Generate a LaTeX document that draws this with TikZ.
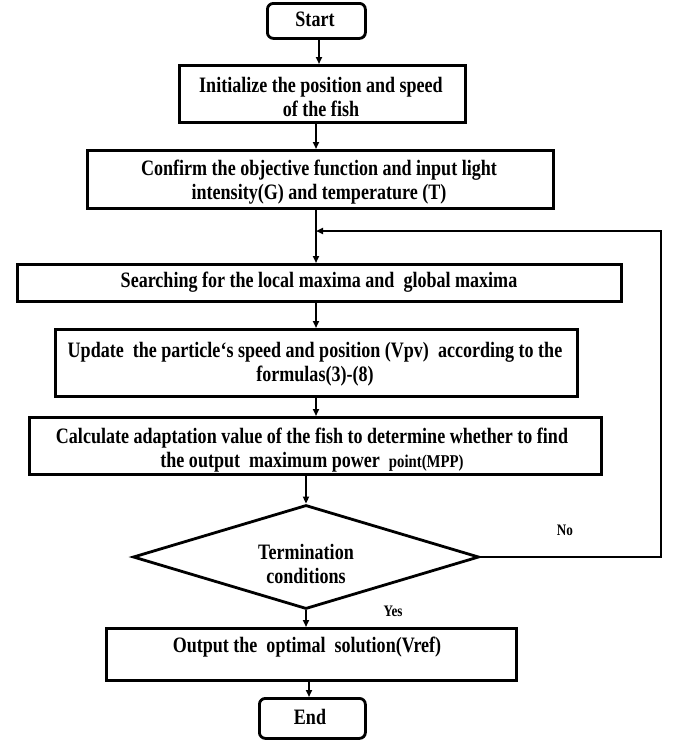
\documentclass[tikz,border=0pt]{standalone}
\usepackage{fontspec}
\setmainfont{Liberation Serif}[FakeStretch=0.82]
\usetikzlibrary{arrows.meta,shapes.geometric}
\begin{document}
\begin{tikzpicture}[x=1pt,y=-1pt,
  box/.style={draw,line width=2.8pt,inner sep=0pt,anchor=north west},
  rbox/.style={box,rounded corners=6pt},
  txt/.style={font=\bfseries\fontsize{22}{24}\selectfont,align=center,inner sep=0pt},
  lbl/.style={font=\bfseries\fontsize{16}{18}\selectfont,inner sep=0pt},
  arr/.style={line width=1.7pt,-{Triangle[length=7pt,width=6pt]}},
  ln/.style={line width=2.2pt}]
\useasboundingbox (0,0) rectangle (682,740);
% boxes
\node[rbox,minimum width=98pt,minimum height=35pt] (start) at (266,2) {};
\node[box,minimum width=286pt,minimum height=57pt] (b1) at (178,64) {};
\node[box,minimum width=466pt,minimum height=58pt] (b2) at (86,149) {};
\node[box,minimum width=604pt,minimum height=37pt] (b3) at (16,263) {};
\node[box,minimum width=522pt,minimum height=67pt] (b4) at (54,328) {};
\node[box,minimum width=572pt,minimum height=57pt] (b5) at (28,416) {};
\node[draw,line width=2.8pt,diamond,inner sep=0pt,minimum width=346pt,minimum height=104pt] (d) at (306,557) {};
\node[box,minimum width=410pt,minimum height=52pt] (b6) at (105,627) {};
\node[rbox,minimum width=106pt,minimum height=40pt] (end) at (258,697) {};
% texts
\node[txt] (tstart) at (315,19) {Start};
\node[txt] (t1) at (321,97) {Initialize the position and speed\\of the fish};
\node[txt] (t2) at (319,182) {Confirm the objective function and input light\\intensity(G) and temperature (T)};
\node[txt] (t3) at (319,282) {Searching for the local maxima and\ \ global maxima};
\node[txt] (t4) at (315,364) {Update\ \ the particle‘s speed and position (Vpv)\ \ according to the\\formulas(3)-(8)};
\node[txt] (t5) at (312,450) {Calculate adaptation value of the fish to determine whether to find\\the output\ \ maximum power\ \ {\fontsize{18}{20}\selectfont point(MPP)}};
\node[txt] (td) at (306,564) {Termination\\conditions};
\node[txt] (t6) at (307,647) {Output the\ \ optimal\ \ solution(Vref)};
\node[txt] (tend) at (310,717) {End};
\node[lbl] (no) at (565,530) {No};
\node[lbl] (yes) at (393,611) {Yes};
% connectors
\draw[arr] (start.south -| 319,0) -- (b1.north -| 319,0);
\draw[arr] (b1.south -| 316,0) -- (b2.north -| 316,0);
\draw[arr] (b2.south -| 316,0) -- (b3.north -| 316,0);
\draw[arr] (b3.south -| 316,0) -- (b4.north -| 316,0);
\draw[arr] (b4.south -| 316,0) -- (b5.north -| 316,0);
\draw[arr] (b5.south -| 306,0) -- (d.north);
\draw[arr] (d.south) -- (b6.north -| 306,0);
\draw[arr] (b6.south -| 309,0) -- (end.north -| 309,0);
\coordinate (lc1) at (661,557);
\coordinate (lc2) at (661,231);
\coordinate (lc3) at (316,231);
\draw[ln] (d.east) -- (lc1) -- (lc2) -- ([xshift=6pt]lc3);
\draw[arr] (lc2) -- (lc3);
\end{tikzpicture}
\end{document}
